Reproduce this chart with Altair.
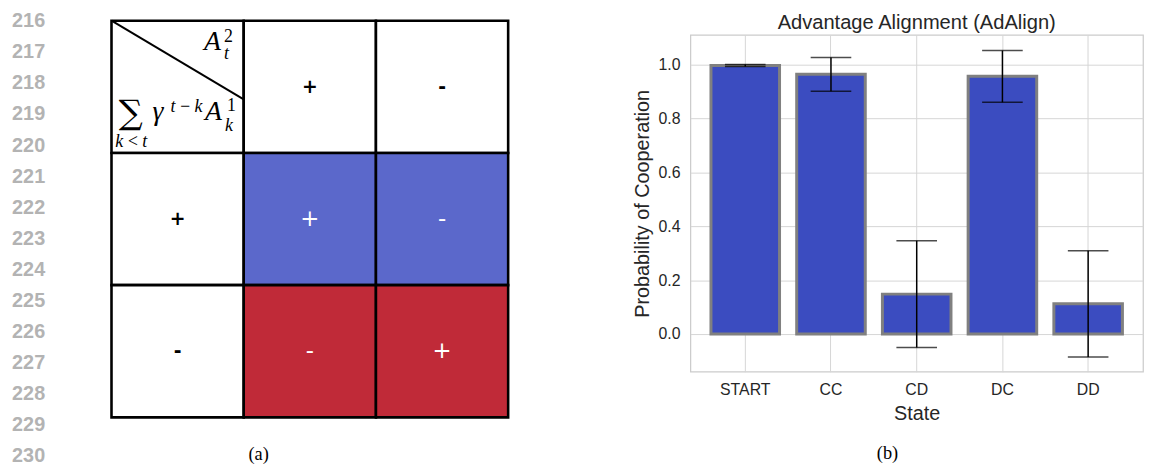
import altair as alt
import pandas as pd

# ---------------- data ----------------
states = ["START", "CC", "CD", "DC", "DD"]
coop_mean = [0.997, 0.964, 0.148, 0.957, 0.112]
coop_low = [0.993, 0.901, -0.050, 0.860, -0.085]
coop_high = [1.000, 1.026, 0.346, 1.052, 0.309]
y_ticks = [0.0, 0.2, 0.4, 0.6, 0.8, 1.0]

line_numbers = list(range(216, 231))

cell_rows = [0, 0, 0, 1, 1, 1, 2, 2, 2]
cell_cols = [0, 1, 2, 0, 1, 2, 0, 1, 2]
cell_kind = ["corner", "head", "head", "head", "pos", "pos", "head", "neg", "neg"]
cell_signs = ["", "+", "-", "+", "+", "-", "-", "-", "+"]

# ---------------- layout constants (page pixels) ----------------
PAGE_TOP = 8
PLOT_TOP = 31.7                 # shared top of both panels' plot areas
ORG_X = 8                       # page x of the left panel's plot area
L_W, L_H = 592, 340
TX0, TY0, CELL = 111.5, 17.3, 133.5
LN_FIRST, LN_LAST = 18.0, 456.8  # centres of first / last line number
GAP = 10
R_X0 = 694                      # page x of the bar chart frame
R_W, R_H = 457, 340

BLUE_CELL = "#5b68cb"
RED_CELL = "#c02a38"
fill_map = {"corner": "white", "head": "white", "pos": BLUE_CELL, "neg": RED_CELL}
txt_map = {"corner": "black", "head": "black", "pos": "white", "neg": "white"}

cells = pd.DataFrame({
    "row": cell_rows,
    "col": cell_cols,
    "kind": cell_kind,
    "sign": cell_signs,
})
cells["row2"] = cells["row"] + 1
cells["col2"] = cells["col"] + 1
cells["rc"] = cells["row"] + 0.5
cells["cc"] = cells["col"] + 0.5

xdom = [(ORG_X - TX0) / CELL, (ORG_X + L_W - TX0) / CELL]
ydom = [(PLOT_TOP - TY0) / CELL, (PLOT_TOP + L_H - TY0) / CELL]
xs = alt.Scale(domain=xdom, nice=False, zero=False)
ys = alt.Scale(domain=ydom, nice=False, zero=False, reverse=True)

kinds = list(fill_map.keys())
fill_scale = alt.Scale(domain=kinds, range=[fill_map[k] for k in kinds])
txt_scale = alt.Scale(domain=kinds, range=[txt_map[k] for k in kinds])

rects = alt.Chart(cells).mark_rect(stroke="black", strokeWidth=2.6).encode(
    x=alt.X("col:Q", scale=xs, axis=None),
    x2="col2:Q",
    y=alt.Y("row:Q", scale=ys, axis=None),
    y2="row2:Q",
    fill=alt.Fill("kind:N", scale=fill_scale, legend=None),
)

signs_dark = alt.Chart(cells).transform_filter("datum.kind == 'head'").mark_text(
    font="DejaVu Sans", fontSize=19, fontWeight="bold", baseline="middle", align="center"
).encode(
    x=alt.X("cc:Q", scale=xs, axis=None),
    y=alt.Y("rc:Q", scale=ys, axis=None),
    text="sign:N",
    color=alt.Color("kind:N", scale=txt_scale, legend=None),
)
signs_light = alt.Chart(cells).transform_filter("datum.kind == 'pos' || datum.kind == 'neg'").mark_text(
    font="DejaVu Sans", fontSize=23, baseline="middle", align="center"
).encode(
    x=alt.X("cc:Q", scale=xs, axis=None),
    y=alt.Y("rc:Q", scale=ys, axis=None),
    text="sign:N",
    color=alt.Color("kind:N", scale=txt_scale, legend=None),
)

diag = alt.Chart(pd.DataFrame({"a": [0]})).mark_rule(color="black", strokeWidth=2).encode(
    x=alt.X(datum=0, scale=xs, axis=None),
    x2=alt.X2(datum=1),
    y=alt.Y(datum=0, scale=ys, axis=None),
    y2=alt.Y2(datum=0.5955),
)


def piece(text, px, py, size, italic=True, align="left", baseline="alphabetic", font="Liberation Serif"):
    return alt.Chart(pd.DataFrame({"t": [text]})).mark_text(
        font=font, fontSize=size, fontStyle="italic" if italic else "normal",
        align=align, baseline=baseline, color="black",
    ).encode(x=alt.value(px - ORG_X), y=alt.value(py - PLOT_TOP), text="t:N")


math = [
    piece("A", 205, 47, 28),
    piece("2", 225, 39, 18, italic=False),
    piece("t", 225, 56, 18),
    piece("\u2211", 131, 122, 34, italic=False, align="center", font="DejaVu Serif"),
    piece("k\u2009<\u2009t", 131.5, 145, 18, align="center"),
    piece("\u03b3", 153, 118, 28),
    piece("t\u2009\u2212\u2009k", 171, 109, 18),
    piece("A", 206, 118, 28),
    piece("1", 228, 108, 18, italic=False),
    piece("k", 226, 129, 18),
    piece("(a)", 260, 461, 18.5, italic=False, align="center"),
]


def pin_rect(px_rel, py_rel):
    # invisible 1px rect that fixes a panel's outer extent
    return alt.Chart(pd.DataFrame({"a": [0]})).mark_rect(opacity=0).encode(
        x=alt.value(px_rel), x2=alt.value(px_rel + 1),
        y=alt.value(py_rel), y2=alt.value(py_rel + 1),
    )


ln_df = pd.DataFrame({"n": line_numbers})
ln_step = (LN_LAST - LN_FIRST) / (line_numbers[-1] - line_numbers[0])
ln_dom = [216 + (PLOT_TOP - LN_FIRST) / ln_step, 216 + (PLOT_TOP + L_H - LN_FIRST) / ln_step]
lines = alt.Chart(ln_df).mark_text(
    font="Liberation Sans", fontSize=20, fontWeight="bold", color="#b3b3b3",
    align="right", baseline="middle",
).encode(
    x=alt.value(44.5 - ORG_X),
    y=alt.Y("n:Q", scale=alt.Scale(domain=ln_dom, nice=False, zero=False, reverse=True), axis=None),
    text="n:Q",
)

table_layer = alt.layer(pin_rect(0, PAGE_TOP - PLOT_TOP), rects, diag, signs_dark, signs_light, *math)
left = alt.layer(table_layer, lines).resolve_scale(y="independent").properties(width=L_W, height=L_H)

# ---------------- bar chart ----------------
TXT = "#262626"
GRID = "#d6d6d6"
bar_df = pd.DataFrame({"state": states, "mean": coop_mean, "low": coop_low, "high": coop_high})
xsc = alt.Scale(domain=states, paddingInner=0.2, paddingOuter=0.24)
ysc = alt.Scale(domain=[-0.14, 1.11], nice=False, zero=False)

x_enc = alt.X(
    "state:N", scale=xsc, sort=states,
    axis=alt.Axis(
        title="State", labelAngle=0, ticks=False, domain=False, grid=True, gridColor=GRID,
        gridWidth=1, bandPosition=0.5, labelFont="Liberation Sans", labelFontSize=16,
        labelColor=TXT, labelPadding=10, titleFont="Liberation Sans", titleFontSize=20,
        titleFontWeight="normal", titleColor=TXT, titlePadding=6,
    ),
)
y_enc = alt.Y(
    "mean:Q", scale=ysc,
    axis=alt.Axis(
        title="Probability of Cooperation", values=y_ticks, format=".1f", ticks=False,
        domain=False, grid=True, gridColor=GRID, gridWidth=1, labelFont="Liberation Sans",
        labelFontSize=16, labelColor=TXT, labelPadding=10.5, titleFont="Liberation Sans",
        titleFontSize=20, titleFontWeight="normal", titleColor=TXT, titlePadding=6,
    ),
)

base = alt.Chart(bar_df)
bars = base.mark_bar(color="#3b4cc0", stroke="#808080", strokeWidth=3).encode(
    x=x_enc, y=y_enc, y2=alt.datum(0)
)
err = base.mark_rule(color="black", strokeWidth=1.5).encode(
    x="state:N", y="low:Q", y2="high:Q"
)
cap_lo = base.mark_tick(color="black", thickness=1.5, size=41).encode(x="state:N", y="low:Q")
cap_hi = base.mark_tick(color="black", thickness=1.5, size=41).encode(x="state:N", y="high:Q")

title_txt = alt.Chart(pd.DataFrame({"t": ["Advantage Alignment (AdAlign)"]})).mark_text(
    font="Liberation Sans", fontSize=20.3, align="center", baseline="alphabetic", color=TXT
).encode(x=alt.value(R_W / 2), y=alt.value(26 - PLOT_TOP), text="t:N")

cap_b = alt.Chart(pd.DataFrame({"t": ["(b)"]})).mark_text(
    font="Liberation Serif", fontSize=18.5, align="center", baseline="alphabetic", color="black"
).encode(x=alt.value(893 - R_X0), y=alt.value(460 - PLOT_TOP), text="t:N")

# pin the bar panel's left extent so the frame lands at R_X0
right_pin = pin_rect(-(R_X0 - (ORG_X + L_W) - GAP), 0)

right = alt.layer(right_pin, bars, err, cap_lo, cap_hi, title_txt, cap_b).properties(
    width=R_W, height=R_H,
    view=alt.ViewBackground(stroke="#cccccc", strokeWidth=1.25),
)

chart = alt.hconcat(left, right, spacing=GAP).properties(padding=0).configure_view(stroke="transparent")
chart.save("out.html", embed_options={"renderer": "svg", "actions": False})
